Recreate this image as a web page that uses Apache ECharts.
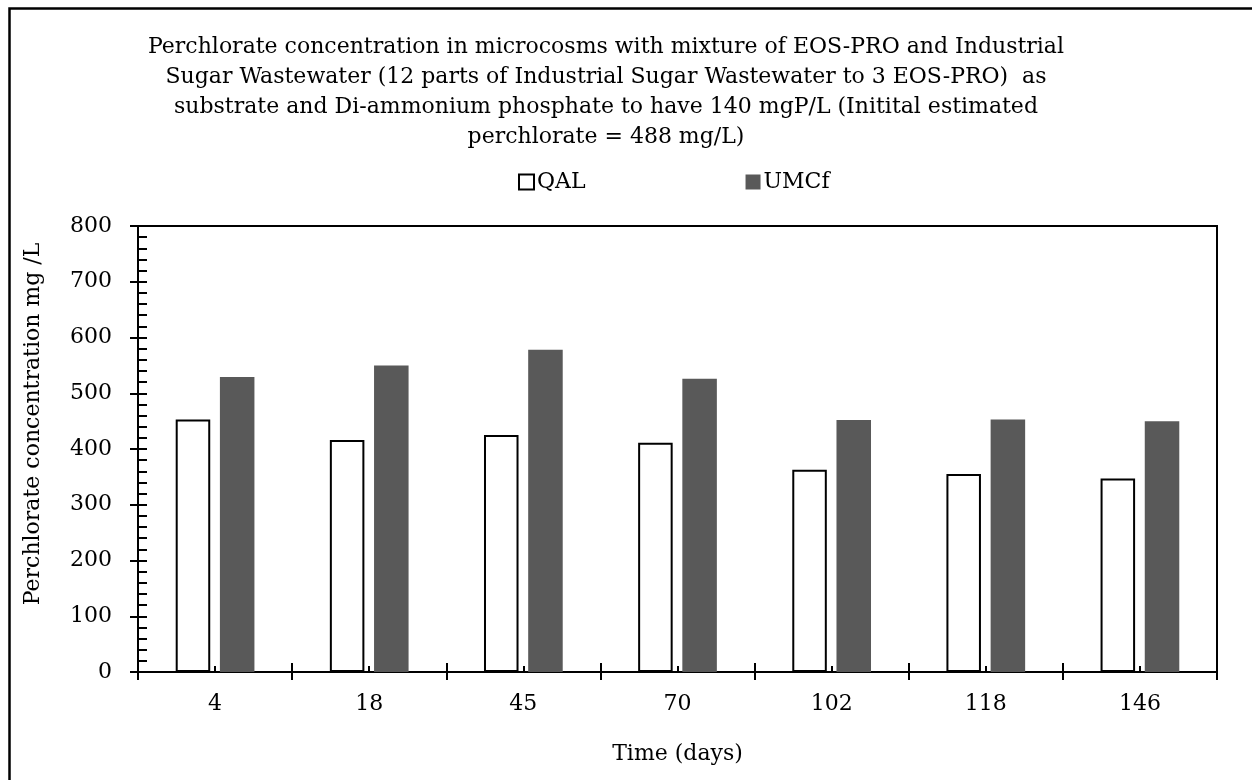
<!DOCTYPE html>
<html>
<head>
<meta charset="utf-8">
<script src="https://cdn.jsdelivr.net/npm/echarts@6/dist/echarts.min.js"></script>
<style>
html,body{margin:0;padding:0;background:#fff;}
#chart{width:1252px;height:780px;}
</style>
</head>
<body>
<div id="chart"></div>
<script>
const titleLines = [
  'Perchlorate concentration in microcosms with mixture of EOS-PRO and Industrial',
  'Sugar Wastewater (12 parts of Industrial Sugar Wastewater to 3 EOS-PRO)  as',
  'substrate and Di-ammonium phosphate to have 140 mgP/L (Initital estimated',
  'perchlorate = 488 mg/L)'
];
const categories = ['4', '18', '45', '70', '102', '118', '146'];
const qalValues = [453, 416, 425, 411, 363, 355, 347];
const umcfValues = [529, 550, 578, 526, 452, 453, 450];
const yTicks = [0, 100, 200, 300, 400, 500, 600, 700, 800];
const seriesNames = ['QAL', 'UMCf'];
const xAxisName = 'Time (days)';
const yAxisName = 'Perchlorate concentration mg /L';

const FONT = 'DejaVu Serif';
const yMin = yTicks[0], yMax = yTicks[yTicks.length - 1], yStep = yTicks[1] - yTicks[0];

const chart = echarts.init(document.getElementById('chart'), null, {renderer: 'canvas'});
const hiddenCat = (extra) => Object.assign({
  type: 'category', data: categories, position: 'bottom', gridIndex: 0,
  axisLine: {show: false}, axisLabel: {show: false}, splitLine: {show: false}
}, extra);

chart.setOption({
  backgroundColor: '#ffffff',
  animation: false,
  textStyle: {fontFamily: FONT, color: '#000'},
  title: {
    text: titleLines.join('\n'),
    left: 606, top: 32, padding: 0,
    textAlign: 'center',
    textStyle: {fontFamily: FONT, fontSize: 22, fontWeight: 'normal', color: '#000', lineHeight: 30}
  },
  legend: {
    left: 518, top: 171, padding: 0,
    itemWidth: 15, itemHeight: 15, itemGap: 160,
    icon: 'rect',
    textStyle: {fontFamily: FONT, fontSize: 22, color: '#000', padding: [0, 0, 0, -2]},
    data: seriesNames
  },
  graphic: [{
    type: 'rect', left: 7, top: 6, z: 100,
    shape: {x: 0, y: 0, width: 1400, height: 1000},
    style: {fill: 'none', stroke: '#000', lineWidth: 2.5}
  }],
  grid: {
    left: 138, right: 35, top: 226, bottom: 108,
    show: true, borderColor: '#000', borderWidth: 2, backgroundColor: 'transparent'
  },
  xAxis: [
    hiddenCat({
      axisLine: {show: true, lineStyle: {color: '#000', width: 2}},
      axisTick: {show: true, inside: false, length: 8, lineStyle: {color: '#000', width: 2}},
      axisLabel: {show: true, margin: 21, fontFamily: FONT, fontSize: 22, color: '#000'},
      name: xAxisName, nameLocation: 'middle', nameGap: 71,
      nameTextStyle: {fontFamily: FONT, fontSize: 22, color: '#000'}
    }),
    hiddenCat({axisTick: {show: true, inside: true, length: 9, lineStyle: {color: '#000', width: 2}}}),
    hiddenCat({axisTick: {show: true, inside: true, length: 6, alignWithLabel: true, lineStyle: {color: '#000', width: 2}}})
  ],
  yAxis: [
    {
      type: 'value', min: yMin, max: yMax, interval: yStep, position: 'left',
      axisLine: {show: true, lineStyle: {color: '#000', width: 2}},
      axisTick: {show: true, inside: false, length: 8, lineStyle: {color: '#000', width: 2}},
      axisLabel: {margin: 26, fontFamily: FONT, fontSize: 22, color: '#000'},
      splitLine: {show: false},
      name: yAxisName, nameLocation: 'middle', nameGap: 94,
      nameTextStyle: {fontFamily: FONT, fontSize: 22, color: '#000', padding: [0, 0, 0, 50]}
    },
    {
      type: 'value', min: yMin, max: yMax, interval: yStep, position: 'left',
      axisLine: {show: false},
      axisTick: {show: true, inside: true, length: 9, lineStyle: {color: '#000', width: 2}},
      minorTick: {show: true, splitNumber: 5, length: 9, lineStyle: {color: '#000', width: 2}},
      axisLabel: {show: false},
      splitLine: {show: false}
    }
  ],
  series: [
    {
      name: seriesNames[0], type: 'bar', data: qalValues,
      xAxisIndex: 0, yAxisIndex: 0,
      barWidth: '22.4%', barGap: '28%',
      itemStyle: {color: '#ffffff', borderColor: '#000', borderWidth: 2}
    },
    {
      name: seriesNames[1], type: 'bar', data: umcfValues,
      xAxisIndex: 0, yAxisIndex: 0,
      barWidth: '22.4%', barGap: '28%',
      itemStyle: {color: '#595959', borderWidth: 0}
    }
  ]
});
</script>
</body>
</html>
